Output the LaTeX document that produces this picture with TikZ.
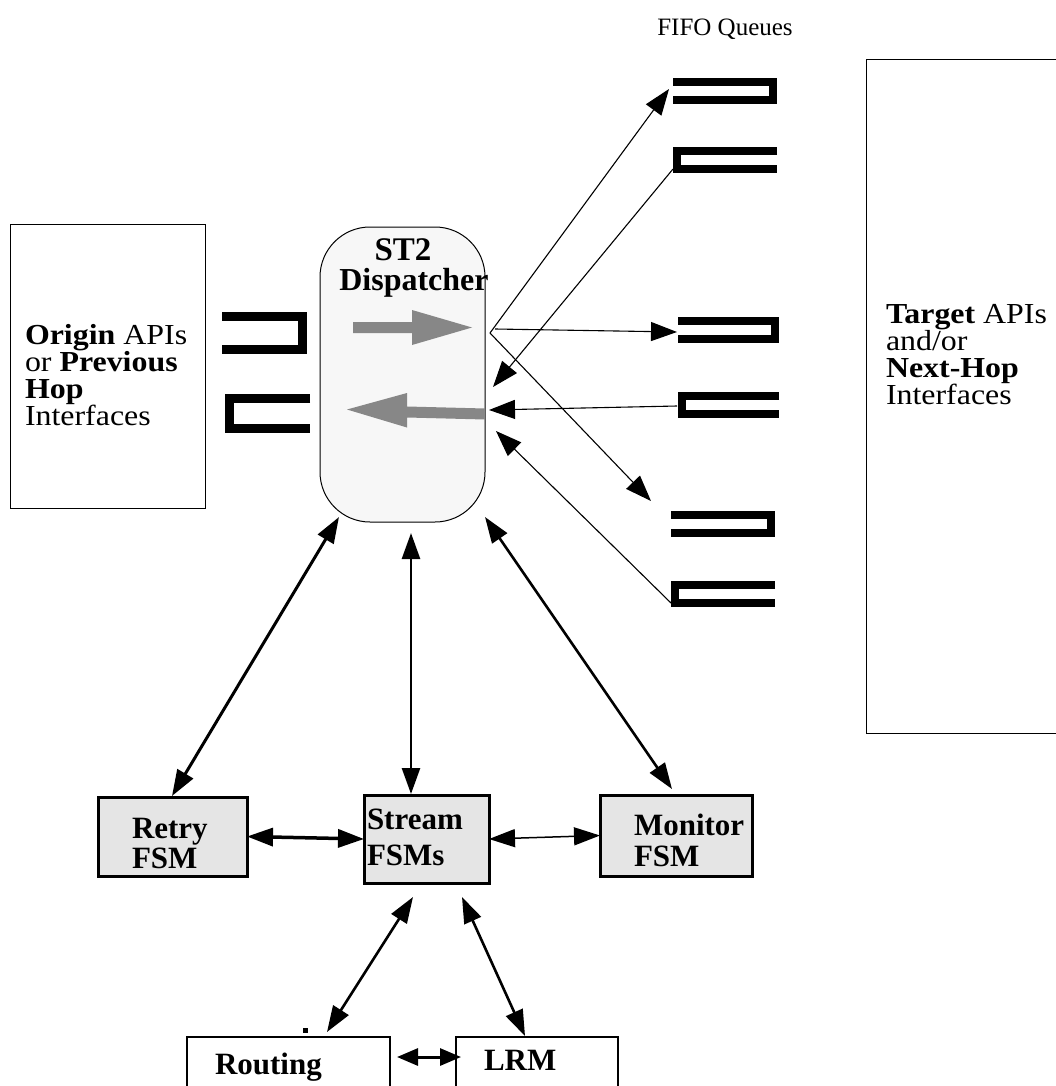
\documentclass[tikz,border=0pt]{standalone}
\usepackage{fontspec}
\setmainfont{Liberation Serif}
\usetikzlibrary{arrows.meta}
\newcommand{\wide}[1]{\scalebox{1.1}[1]{#1}}
\begin{document}
\begin{tikzpicture}[x=1pt,y=-1pt,
  every node/.style={inner sep=0pt,outer sep=0pt},
  lbl/.style={anchor=base west,font=\fontsize{31}{31}\selectfont},
  sidelbl/.style={anchor=base west,font=\fontsize{29}{29}\selectfont},
  panel/.style={draw,line width=1pt,anchor=north west},
  fsmbox/.style={draw,line width=3pt,fill=black!10,anchor=north west},
  modbox/.style={draw,line width=2.5pt,fill=white,anchor=north west},
  queue/.style={line width=8pt},
  bigqueue/.style={line width=9pt},
  flow/.style={fill=black!47},
  fan/.style={line width=1.1pt,-{Triangle[length=26pt,width=19pt]}},
  link/.style={line width=2.6pt,{Triangle[length=26pt,width=18pt]}-{Triangle[length=26pt,width=18pt]}},
]
\useasboundingbox (0,0) rectangle (1055,1086);

% ---------- side panels ----------
\node[panel,minimum width=195pt,minimum height=284pt] (origin) at (10,224) {};
\node[sidelbl] (o1) at (25,344) {\wide{\textbf{Origin} APIs}};
\node[sidelbl] (o2) at (25,371) {\wide{or \textbf{Previous}}};
\node[sidelbl] (o3) at (25,398) {\wide{\textbf{Hop}}};
\node[sidelbl] (o4) at (25,425) {\wide{Interfaces}};

\node[panel,minimum width=210pt,minimum height=673pt] (target) at (866,60) {};
\node[sidelbl] (t1) at (886,323) {\wide{\textbf{Target} APIs}};
\node[sidelbl] (t2) at (886,350) {\wide{and/or}};
\node[sidelbl] (t3) at (886,377) {\wide{\textbf{Next-Hop}}};
\node[sidelbl] (t4) at (886,404) {\wide{Interfaces}};

\node[anchor=base,font=\fontsize{25}{25}\selectfont] (fifo) at (725,36) {FIFO Queues};

% ---------- dispatcher ----------
\node[draw,line width=1pt,fill=black!3,rounded corners=50pt,anchor=north west,
      minimum width=165pt,minimum height=295pt] (disp) at (320,227) {};
\node[lbl,anchor=base,font=\fontsize{33}{33}\selectfont] (st2) at (403,260) {\textbf{ST2}};
\node[lbl,anchor=base,font=\fontsize{32}{32}\selectfont] (dsp) at (414,290) {\textbf{Dispatcher}};

% gray flow arrows inside the dispatcher
\fill[flow] (353,322) -- (412,322) -- (412,310) -- (472,327.5) -- (412,345) -- (412,333) -- (353,333) -- cycle;
\fill[flow] (485,408.5) -- (407,406.5) -- (407,393) -- (347,409.5) -- (407,427.5) -- (407,417.5) -- (485,419.5) -- cycle;

% ---------- FIFO queues on the origin side ----------
\draw[bigqueue] (222,316.5) -- (302.5,316.5) -- (302.5,349.5) -- (222,349.5);
\draw[bigqueue] (310,398.5) -- (229.5,398.5) -- (229.5,428.5) -- (310,428.5);

% ---------- FIFO queues on the target side ----------
\draw[queue] (673,82) -- (773,82) -- (773,100) -- (673,100);
\draw[queue] (777,151) -- (677,151) -- (677,169) -- (777,169);
\draw[queue] (678,321) -- (775,321) -- (775,339) -- (678,339);
\draw[queue] (779,396) -- (682,396) -- (682,414) -- (779,414);
\draw[queue] (671,515) -- (771,515) -- (771,533) -- (671,533);
\draw[queue] (775,585) -- (675,585) -- (675,603) -- (775,603);

% queue ends and dispatcher ports
\coordinate (fanpt) at (490,333);
\coordinate (fanpt2) at (495,329);
\coordinate (q1in) at (669,89);
\coordinate (q2out) at (673,169);
\coordinate (q3in) at (677,332);
\coordinate (q4out) at (677,406);
\coordinate (q5in) at (651,501);
\coordinate (q6out) at (671,603);
\coordinate (din1) at (493,387);
\coordinate (din2) at (489,410);
\coordinate (din3) at (496,431);

\draw[fan] (fanpt) -- (q1in);
\draw[fan] (fanpt2) -- (q3in);
\draw[fan] (fanpt) -- (q5in);
\draw[fan] (q2out) -- (din1);
\draw[fan] (q4out) -- (din2);
\draw[fan] (q6out) -- (din3);

% ---------- state machines ----------
\node[fsmbox,minimum width=149pt,minimum height=79pt] (retry) at (98,797) {};
\node[fsmbox,minimum width=125pt,minimum height=88pt] (stream) at (364,795) {};
\node[fsmbox,minimum width=152pt,minimum height=81pt] (monitor) at (600,795) {};

\node[lbl] (r1) at (132,838) {\textbf{Retry}};
\node[lbl] (r2) at (132,868) {\textbf{FSM}};
\node[lbl] (s1) at (367,829) {\textbf{Stream}};
\node[lbl] (s2) at (367,865) {\textbf{FSMs}};
\node[lbl] (m1) at (634,835) {\textbf{Monitor}};
\node[lbl] (m2) at (634,866) {\textbf{FSM}};

% ---------- routing and resource management ----------
\node[modbox,minimum width=203pt,minimum height=80pt] (routing) at (187,1037) {};
\node[modbox,minimum width=162pt,minimum height=80pt] (lrm) at (456,1037) {};
\node[lbl] (rt) at (215,1074) {\textbf{Routing}};
\node[lbl] (lr) at (484,1070) {\textbf{LRM}};
\fill (302.5,1027.5) rectangle (307.5,1032.5);

% ---------- connector end points ----------
\coordinate (dSW) at (339,517);
\coordinate (dS) at (411,533);
\coordinate (dSE) at (485,517);
\coordinate (retryN) at (172,796);
\coordinate (streamN) at (411,794);
\coordinate (monN) at (672,789);
\coordinate (streamSW) at (413,897);
\coordinate (streamSE) at (462,897);
\coordinate (routN) at (327,1032);
\coordinate (lrmN) at (525,1036);

\draw[link,line width=3pt] (dSW) -- (retryN);
\draw[link] (dS) -- (streamN);
\draw[link] (dSE) -- (monN);
\draw[link,line width=3.5pt] (retry.east) -- (stream.west);
\draw[link,line width=1.5pt] (stream.east) -- (monitor.west);
\draw[link] (streamSW) -- (routN);
\draw[link] (streamSE) -- (lrmN);
\draw[line width=3pt,{Triangle[length=21pt,width=17pt]}-{Triangle[length=21pt,width=17pt]}]
  ([xshift=7pt,yshift=-20pt]routing.north east) -- ([xshift=5pt,yshift=-20pt]lrm.north west);
\end{tikzpicture}
\end{document}
